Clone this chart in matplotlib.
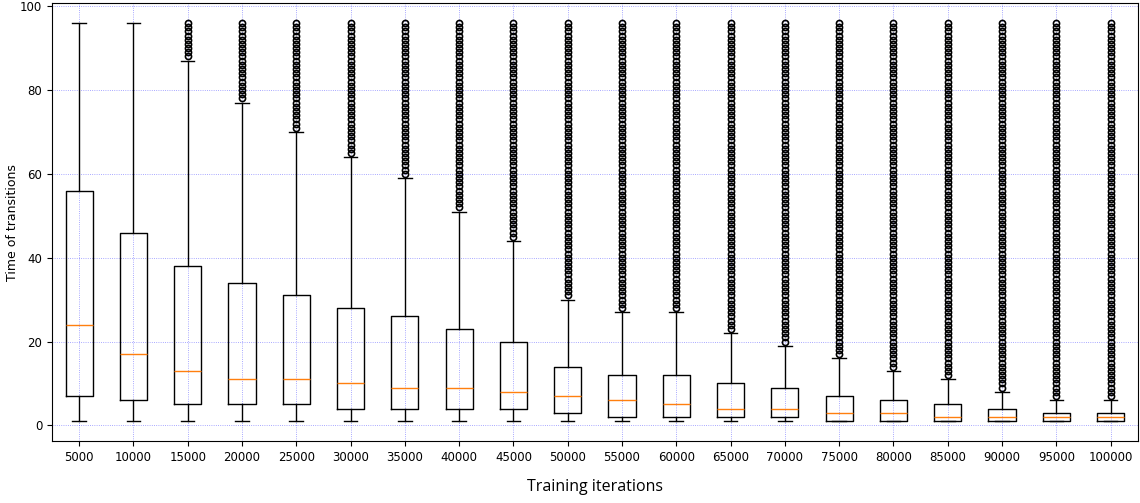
import matplotlib.pyplot as plt

iterations = [5000, 10000, 15000, 20000, 25000, 30000, 35000, 40000, 45000, 50000,
              55000, 60000, 65000, 70000, 75000, 80000, 85000, 90000, 95000, 100000]
q1 = [7, 6, 5, 5, 5, 4, 4, 4, 4, 3, 2, 2, 2, 2, 1, 1, 1, 1, 1, 1]
median = [24, 17, 13, 11, 11, 10, 9, 9, 8, 7, 6, 5, 4, 4, 3, 3, 2, 2, 2, 2]
q3 = [56, 46, 38, 34, 31, 28, 26, 23, 20, 14, 12, 12, 10, 9, 7, 6, 5, 4, 3, 3]
whis_low = [1] * 20
whis_high = [96, 96, 87, 77, 70, 64, 59, 51, 44, 30, 27, 27, 22, 19, 16, 13, 11, 8, 6, 6]
# transition counts are integers, the largest observed is 96
max_time = 96

stats = []
for i in range(len(iterations)):
    stats.append({
        'label': str(iterations[i]),
        'q1': q1[i],
        'med': median[i],
        'q3': q3[i],
        'whislo': whis_low[i],
        'whishi': whis_high[i],
        'fliers': list(range(whis_high[i] + 1, max_time + 1)),
    })

fig = plt.figure(figsize=(11.4, 5.03), dpi=100)
ax = fig.add_axes([0.0456, 0.123, 0.9524, 0.871])

ax.bxp(stats, showfliers=True,
       flierprops=dict(marker='o', markersize=4.4, markerfacecolor='none',
                       markeredgecolor='black', markeredgewidth=1.2),
       medianprops=dict(color='#ff7f0e', linewidth=1))

ax.grid(True, color='blue', linestyle=':', linewidth=0.6, alpha=0.45)
ax.set_axisbelow(True)
ax.tick_params(labelsize=8.5)

ax.set_ylabel('Time of transitions', fontsize=9, labelpad=1)
ax.set_xlabel('Training iterations', fontsize=11.5, family='Open Sans', labelpad=11)

fig.savefig('out.png', dpi=100)
